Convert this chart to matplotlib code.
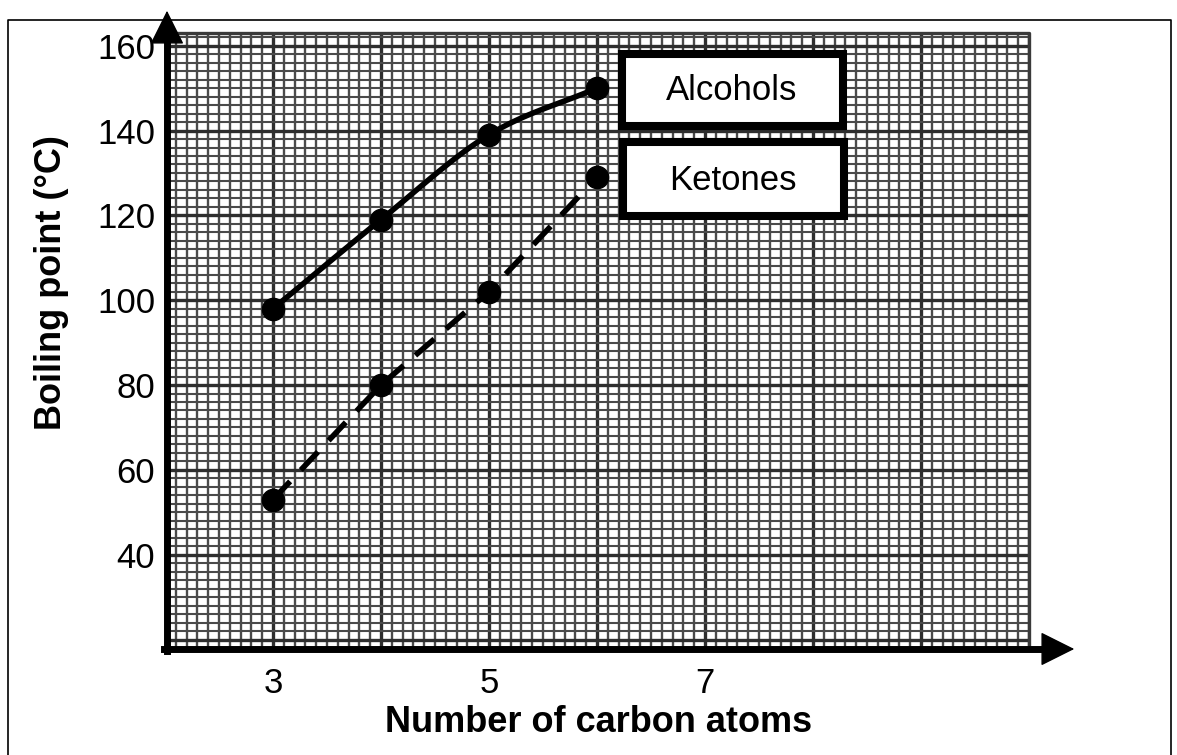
import numpy as np
import matplotlib
matplotlib.use("Agg")
import matplotlib.pyplot as plt
from matplotlib.patches import Rectangle, FancyArrowPatch
from matplotlib.lines import Line2D

plt.rcParams['font.family'] = ['Liberation Sans', 'DejaVu Sans']

# ---------------- data ----------------
carbons = [3, 4, 5, 6]
alcohols = [98, 119, 139, 150]
ketones = [53, 80, 102, 129]
x_ticks = [3, 5, 7]
y_ticks = [40, 60, 80, 100, 120, 140, 160]
series_names = ["Alcohols", "Ketones"]
x_label = "Number of carbon atoms"
y_label = "Boiling point (\u00b0C)"

W, H = 1177, 755
fig = plt.figure(figsize=(W / 100, H / 100), dpi=100)

def px(x, y):
    return x / W, 1 - y / H

L, R, T, B = 165, 1029, 33, 648
ax = fig.add_axes([L / W, 1 - B / H, (R - L) / W, (B - T) / H])
XMIN, XMAX, YMIN, YMAX = 2, 10, 18, 163
ax.set_xlim(XMIN, XMAX)
ax.set_ylim(YMIN, YMAX)
for s in ax.spines.values():
    s.set_visible(False)

# graph-paper grid
xg = np.round(np.arange(XMIN, XMAX + 1e-9, 0.1), 3)
yg = np.arange(20, YMAX + 1e-9, 2)
for v in xg:
    if abs(v - round(v)) < 1e-6:
        lw, c = 2.4, '#2e2e2e'
    else:
        lw, c = 1.7, '#4a4a4a'
    ax.axvline(v, color=c, lw=lw, zorder=1)
for v in yg:
    if v % 20 == 0:
        lw, c = 2.4, '#2e2e2e'
    else:
        lw, c = 1.5, '#4a4a4a'
    ax.axhline(v, color=c, lw=lw, zorder=1)
# grid border (top / right)
ax.plot([XMIN, XMAX, XMAX], [YMAX, YMAX, YMIN], color='#3a3a3a', lw=2.4,
        clip_on=False, zorder=2)

# smooth curve (Catmull-Rom) for alcohols
def catmull(xs, ys, n=40):
    P = np.column_stack([xs, ys]).astype(float)
    P = np.vstack([2 * P[0] - P[1], P, 2 * P[-1] - P[-2]])
    out = []
    for i in range(1, len(P) - 2):
        p0, p1, p2, p3 = P[i - 1], P[i], P[i + 1], P[i + 2]
        t = np.linspace(0, 1, n)[:, None]
        seg = 0.5 * ((2 * p1) + (-p0 + p2) * t + (2 * p0 - 5 * p1 + 4 * p2 - p3) * t ** 2
                     + (-p0 + 3 * p1 - 3 * p2 + p3) * t ** 3)
        out.append(seg)
    out = np.vstack(out)
    return out[:, 0], out[:, 1]

cx, cy = catmull(carbons, alcohols)
ax.plot(cx, cy, color='black', lw=4, solid_capstyle='round', zorder=4)
ax.plot(carbons, alcohols, 'o', color='black', ms=16, zorder=5)
ax.plot(carbons, ketones, color='black', lw=4, dashes=(4.5, 2.8), zorder=4)
ax.plot(carbons, ketones, 'o', color='black', ms=16, zorder=5)

# ticks
ax.set_xticks(x_ticks)
ax.set_yticks(y_ticks)
ax.tick_params(axis='both', length=0, labelsize=25)
ax.tick_params(axis='x', pad=14)
ax.tick_params(axis='y', pad=7)

ax.set_xlabel(x_label, fontsize=26, fontweight='bold', va='center')
ax.xaxis.set_label_coords((599 - L) / (R - L), (B - 723) / (B - T))
ax.set_ylabel(y_label, fontsize=26, fontweight='bold', va='center')
ax.yaxis.set_label_coords((52 - L) / (R - L), (B - 283) / (B - T))

# axis arrows
fig.add_artist(Line2D(*zip(px(L + 2, B + 3), px(L + 2, 25)), color='black', lw=5,
                      solid_capstyle='projecting'))
fig.add_artist(Line2D(*zip(px(L - 1, B + 1), px(1060, B + 1)), color='black', lw=5,
                      solid_capstyle='projecting'))
fig.add_artist(FancyArrowPatch(px(L + 2, 30), px(L + 2, 8), transform=fig.transFigure,
                               arrowstyle='-|>,head_length=1.0,head_width=0.5',
                               mutation_scale=22, color='black', lw=1))
fig.add_artist(FancyArrowPatch(px(1055, B + 1), px(1077, B + 1), transform=fig.transFigure,
                               arrowstyle='-|>,head_length=1.0,head_width=0.5',
                               mutation_scale=22, color='black', lw=1))

# legend boxes
def box(x0, y0, x1, y1, text, tx, ty):
    fx0, fy1 = px(x0 + 4, y0 + 4)
    fx1, fy0 = px(x1 - 4, y1 - 4)
    fig.add_artist(Rectangle((fx0, fy0), fx1 - fx0, fy1 - fy0, transform=fig.transFigure,
                             facecolor='white', edgecolor='black', lw=5.8, zorder=6))
    fig.text(*px(tx, ty), text, fontsize=25, ha='center', va='center', zorder=7)

box(618, 50, 847, 130, series_names[0], 732, 91)
box(619, 138, 848, 220, series_names[1], 733, 180)

# figure border
fig.add_artist(Line2D(*zip(px(8, 760), px(8, 20), px(1171, 20), px(1171, 760)),
                      color='black', lw=1.2))

fig.savefig("out.png", dpi=100)
